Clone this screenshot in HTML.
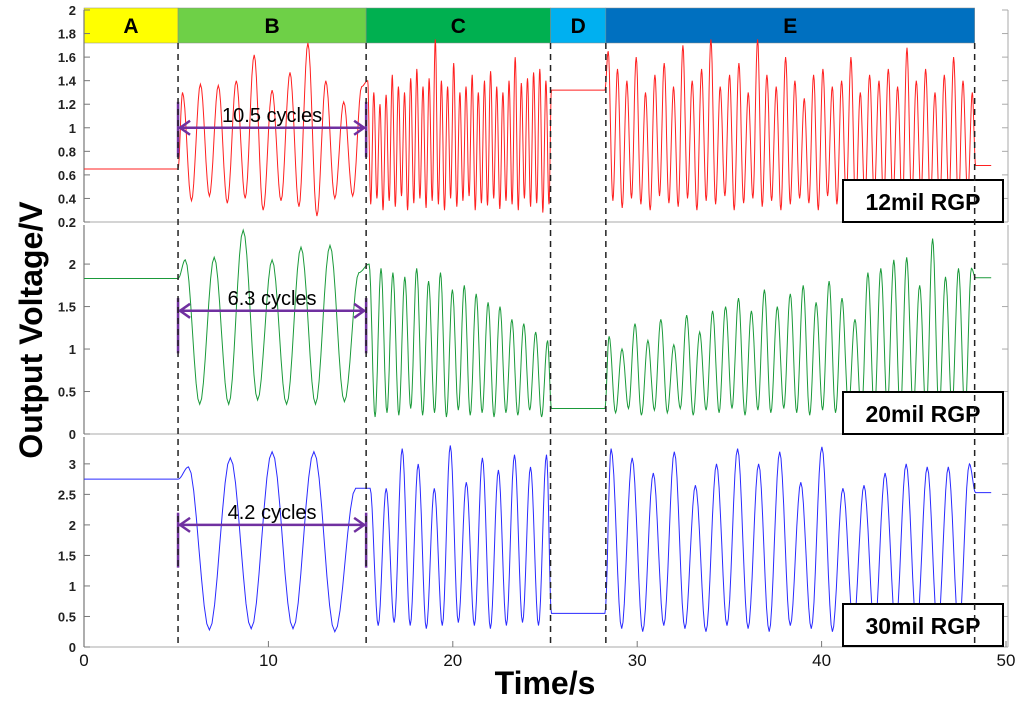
<!DOCTYPE html>
<html><head><meta charset="utf-8">
<style>
body{margin:0;background:#fff;}
svg{display:block;font-family:"Liberation Sans",Arial,sans-serif;}
.tk{font-size:13px;font-weight:bold;fill:#222;text-anchor:end;}
.xt{font-size:17px;fill:#111;text-anchor:middle;}
.seg{font-size:21px;font-weight:bold;text-anchor:middle;fill:#000;}
.leg{font-size:23px;font-weight:bold;text-anchor:middle;fill:#000;}
.cyc{font-size:20px;fill:#000;text-anchor:middle;}
</style></head><body>
<svg id="chart" width="1024" height="713" viewBox="0 0 1024 713"></svg>
<script>
// ---- data ----
const xTicks=[0,10,20,30,40,50];
const redTicks=[0.2,0.4,0.6,0.8,1,1.2,1.4,1.6,1.8,2];
const greenTicks=[0,0.5,1,1.5,2];
const blueTicks=[0,0.5,1,1.5,2,2.5,3];
const phaseNames=['A','B','C','D','E'];
const phaseBounds=[0,5.1,15.3,25.3,28.3,48.3];
const redFlatA=0.65, redFlatD=1.32, redFlatEnd=0.68;
const redPeaksB=[1.3,1.37,1.36,1.4,1.62,1.32,1.47,1.72,1.4,1.22,1.35];
const redTroughsB=[0.38,0.42,0.36,0.4,0.3,0.38,0.33,0.25,0.4,0.42];
const redPeaksC=[1.4,1.3,1.2,1.28,1.45,1.35,1.3,1.42,1.5,1.35,1.42,1.75,1.4,1.35,1.55,1.3,1.35,1.45,1.3,1.4,1.48,1.35,1.3,1.4,1.6,1.38,1.42,1.47,1.5,1.4];
const redTroughsC=[0.35,0.4,0.3,0.38,0.33,0.42,0.3,0.36,0.4,0.32,0.38,0.35,0.3,0.4,0.33,0.38,0.42,0.3,0.36,0.34,0.4,0.31,0.38,0.35,0.3,0.4,0.33,0.36,0.28,0.35];
const redPeaksE=[1.65,1.5,1.4,1.6,1.3,1.45,1.55,1.35,1.7,1.4,1.5,1.75,1.35,1.45,1.55,1.3,1.75,1.45,1.35,1.6,1.4,1.25,1.45,1.5,1.35,1.4,1.6,1.3,1.45,1.4,1.5,1.35,1.68,1.4,1.5,1.3,1.45,1.6,1.4,1.3];
const redTroughsE=[0.38,0.32,0.4,0.35,0.3,0.42,0.36,0.33,0.4,0.3,0.38,0.35,0.42,0.3,0.36,0.4,0.33,0.38,0.3,0.35,0.4,0.36,0.3,0.42,0.35,0.38,0.3,0.36,0.4,0.33,0.38,0.3,0.35,0.42,0.36,0.3,0.38,0.33,0.4];
const greenFlatA=1.83, greenFlatD=0.3, greenFlatEnd=1.84;
const greenPeaksB=[2.05,2.08,2.4,2.05,2.2,2.22,1.9];
const greenTroughsB=[0.35,0.35,0.4,0.35,0.35,0.38];
const greenPeaksC=[2.0,1.95,1.9,1.85,1.95,1.8,1.9,1.7,1.75,1.65,1.55,1.5,1.35,1.3,1.2,1.1];
const greenTroughsC=[0.2,0.25,0.22,0.3,0.22,0.25,0.2,0.28,0.22,0.25,0.2,0.25,0.22,0.28,0.2];
const greenPeaksE=[1.15,1.0,1.3,1.1,1.35,1.05,1.4,1.2,1.45,1.5,1.6,1.45,1.7,1.5,1.65,1.75,1.55,1.8,1.6,1.35,1.9,1.95,2.05,2.08,1.75,2.3,1.85,1.95,1.95];
const greenTroughsE=[0.25,0.3,0.22,0.28,0.25,0.3,0.22,0.28,0.25,0.3,0.22,0.28,0.25,0.3,0.25,0.22,0.28,0.25,0.3,0.22,0.26,0.3,0.25,0.28,0.22,0.26,0.3,0.25];
const blueFlatA=2.75, blueFlatD=0.55, blueFlatEnd=2.53;
const bluePeaksB=[2.95,3.1,3.2,3.2,2.6];
const blueTroughsB=[0.28,0.3,0.3,0.25];
const bluePeaksC=[2.6,2.6,3.25,3.0,2.6,3.3,2.7,3.1,2.9,3.15,2.95,3.15];
const blueTroughsC=[0.35,0.4,0.35,0.3,0.35,0.4,0.35,0.3,0.35,0.4,0.35];
const bluePeaksE=[3.25,3.1,2.85,3.2,2.65,3.0,3.25,3.0,3.2,2.7,3.28,2.6,2.65,2.85,3.0,2.95,2.95,3.0];
const blueTroughsE=[0.3,0.25,0.35,0.3,0.25,0.35,0.3,0.25,0.35,0.3,0.25,0.35,0.3,0.35,0.3,0.3,0.3];
</script>
<script>
const NS='http://www.w3.org/2000/svg';
const svg=document.getElementById('chart');
function mk(tag,attrs,parent){const e=document.createElementNS(NS,tag);for(const k in attrs)e.setAttribute(k,attrs[k]);(parent||svg).appendChild(e);return e;}
const X0=84,X1=1006;
const xs=t=>X0+(X1-X0)*t/50;
const panels=[
 {top:10,bot:222,v0:0.2,v1:2,ticks:redTicks,color:'#ff2020',name:'red',leg:'12mil RGP',ly:180,
  flats:[redFlatA,redFlatD,redFlatEnd],B:[redPeaksB,redTroughsB],C:[redPeaksC,redTroughsC],E:[redPeaksE,redTroughsE],arrowV:1.0,barV:[0.75,1.22],cyc:'10.5 cycles'},
 {top:225,bot:434,v0:0,v1:2.46,ticks:greenTicks,color:'#1a9a3a',name:'green',leg:'20mil RGP',ly:392,
  flats:[greenFlatA,greenFlatD,greenFlatEnd],B:[greenPeaksB,greenTroughsB],C:[greenPeaksC,greenTroughsC],E:[greenPeaksE,greenTroughsE],arrowV:1.45,barV:[0.95,1.6],cyc:'6.3 cycles'},
 {top:437,bot:647,v0:0,v1:3.44,ticks:blueTicks,color:'#2a2aff',name:'blue',leg:'30mil RGP',ly:604,
  flats:[blueFlatA,blueFlatD,blueFlatEnd],B:[bluePeaksB,blueTroughsB],C:[bluePeaksC,blueTroughsC],E:[bluePeaksE,blueTroughsE],arrowV:2.0,barV:[1.3,2.2],cyc:'4.2 cycles'}
];
const phaseColors=['#ffff00','#6ed047','#00b050','#00b0f0','#0070c0'];
phaseNames.forEach((n,i)=>{
  const x0=xs(phaseBounds[i]),x1=xs(phaseBounds[i+1]);
  const r=mk('rect',{x:x0,y:8,width:x1-x0,height:35,fill:phaseColors[i],stroke:'#888','stroke-width':0.5});
  
  
  const t=mk('text',{x:(x0+x1)/2,y:33,class:'seg'});t.textContent=n;
  
  
});
panels.forEach((p,pi)=>{
  const ys=v=>p.bot-(v-p.v0)/(p.v1-p.v0)*(p.bot-p.top);
  const g=mk('g',{});
  
  
  mk('line',{x1:X0,x2:X0,y1:p.top,y2:p.bot,stroke:'#777','stroke-width':1.2},g);
  mk('line',{x1:X1+2,x2:X1+2,y1:p.top,y2:p.bot,stroke:'#aaa','stroke-width':1},g);
  mk('line',{x1:X0,x2:X1+2,y1:p.bot,y2:p.bot,stroke:'#aaa','stroke-width':1},g);
  p.ticks.forEach(v=>{
    const y=ys(v);
    mk('line',{x1:X0,x2:X0+6,y1:y,y2:y,stroke:'#777'},g);
    mk('line',{x1:X1-4,x2:X1+2,y1:y,y2:y,stroke:'#aaa'},g);
    const t=mk('text',{x:X0-8,y:y+5,class:'tk'},g);t.textContent=v;
    
    
  });
  const B=phaseBounds;
  function osc(t0,t1,peaks,troughs){
    const ext=[];for(let i=0;i<peaks.length;i++){ext.push(peaks[i]);if(i<troughs.length)ext.push(troughs[i]);}
    const n=ext.length,dt=(t1-t0)/n;
    return ext.map((v,i)=>[t0+dt*(i+0.5),v]);
  }
  const seq=[];
  seq.push([0,p.flats[0]],[B[1],p.flats[0]]);
  osc(B[1],B[2],p.B[0],p.B[1]).forEach(q=>seq.push(q));
  osc(B[2],B[3],p.C[0],p.C[1]).forEach(q=>seq.push(q));
  seq.push([B[3]+0.05,p.flats[1]],[B[4]-0.05,p.flats[1]]);
  osc(B[4],B[5],p.E[0],p.E[1]).forEach(q=>seq.push(q));
  seq.push([B[5]+0.05,p.flats[2]],[49.2,p.flats[2]]);
  let d='M'+xs(seq[0][0])+' '+ys(seq[0][1]);
  for(let i=1;i<seq.length;i++){
    const [ta,va]=seq[i-1],[tb,vb]=seq[i];
    const steps=8;
    for(let k=1;k<=steps;k++){
      const f=k/steps,s=(1-Math.cos(Math.PI*f))/2;
      d+=' L'+xs(ta+(tb-ta)*f).toFixed(1)+' '+ys(va+(vb-va)*s).toFixed(1);
    }
  }
  const path=mk('path',{d:d,fill:'none',stroke:p.color,'stroke-width':1});
  
  
  const xa=xs(B[1]),xb=xs(B[2]),ya=ys(p.arrowV);
  const ag=mk('g',{stroke:'#7030a0','stroke-width':2.5,fill:'none'});
  
  
  mk('line',{x1:xa,x2:xb,y1:ya,y2:ya},ag);
  mk('line',{x1:xa,x2:xa,y1:ys(p.barV[0]),y2:ys(p.barV[1])},ag);
  mk('line',{x1:xb,x2:xb,y1:ys(p.barV[0]),y2:ys(p.barV[1])},ag);
  mk('polyline',{points:`${xa+12},${ya-7} ${xa+2},${ya} ${xa+12},${ya+7}`},ag);
  mk('polyline',{points:`${xb-12},${ya-7} ${xb-2},${ya} ${xb-12},${ya+7}`},ag);
  const ct=mk('text',{x:(xa+xb)/2,y:ya-6,class:'cyc'});ct.textContent=p.cyc;
  
  
  const lr=mk('rect',{x:843,y:p.ly,width:160,height:42,fill:'#fff',stroke:'#000','stroke-width':2});
  
  
  const lt=mk('text',{x:923,y:p.ly+30,class:'leg'});lt.textContent=p.leg;
  
  
});
phaseBounds.slice(1).forEach(b=>{
  const l=mk('line',{x1:xs(b),x2:xs(b),y1:43,y2:647,stroke:'#222','stroke-width':1.5,'stroke-dasharray':'6,5'});
  
  
});
xTicks.forEach(v=>{
  const x=xs(v);
  mk('line',{x1:x,x2:x,y1:641,y2:647,stroke:'#777'});
  const t=mk('text',{x:x,y:666,class:'xt'});t.textContent=v;
  
  
});
const xt=mk('text',{x:545,y:694,'font-size':32,'font-weight':'bold','text-anchor':'middle'});xt.textContent='Time/s';


const yt=mk('text',{x:0,y:0,'font-size':32,'font-weight':'bold','text-anchor':'middle',transform:'translate(42,330) rotate(-90)'});yt.textContent='Output Voltage/V';


</script>
</body></html>
